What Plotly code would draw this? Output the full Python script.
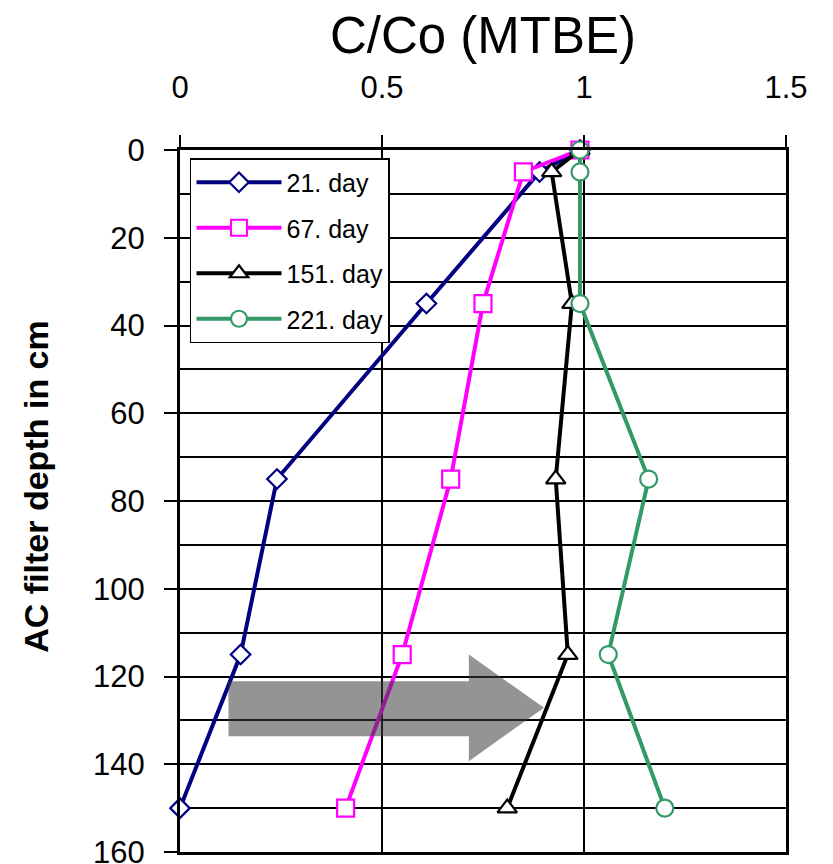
import plotly.graph_objects as go

depth = [0, 5, 35, 75, 115, 150]
day21 = [0.99, 0.89, 0.61, 0.24, 0.15, 0.0]
day67 = [0.99, 0.85, 0.75, 0.67, 0.55, 0.41]
day151 = [0.99, 0.92, 0.97, 0.93, 0.96, 0.81]
day221 = [0.99, 0.99, 0.99, 1.16, 1.06, 1.20]

series_names = ["21. day", "67. day", "151. day", "221. day"]
series_values = [day21, day67, day151, day221]
colors = ["#000080", "#FF00FF", "#000000", "#339966"]
symbols = ["diamond", "square", "triangle-up", "circle"]
sizes = [15, 17, 17, 17]

FONT = "Liberation Sans, Arial, sans-serif"

fig = go.Figure()
for i, (name, vals) in enumerate(zip(series_names, series_values)):
    fig.add_trace(go.Scatter(
        x=vals, y=depth, name=name, mode="lines+markers",
        legendgroup=f"g{i}",
        line=dict(color=colors[i], width=4),
        marker=dict(symbol=symbols[i], size=sizes[i], color="white",
                    line=dict(width=2.2, color=colors[i])),
        cliponaxis=False,
    ))

# gray block arrow (direction of flow), in data coordinates
ax = [0.120, 0.715, 0.715, 0.901, 0.715, 0.715, 0.120]
ay = [121.1, 121.1, 115.0, 127.1, 139.3, 133.6, 133.6]
path = "M " + " L ".join(f"{a},{b}" for a, b in zip(ax, ay)) + " Z"
fig.add_shape(type="path", path=path, xref="x", yref="y",
              fillcolor="rgba(60,60,60,0.55)", line=dict(width=0), layer="above")

# y-axis title as rotated annotation (placed like the reference)
fig.add_annotation(
    text="<b>AC filter depth in cm</b>", textangle=-90,
    xref="paper", yref="paper", x=-0.238, y=0.52,
    xanchor="center", yanchor="middle", showarrow=False,
    font=dict(size=34, family=FONT, color="black"),
)

fig.update_layout(
    width=833, height=864,
    margin=dict(l=180, r=47, t=150, b=12),
    paper_bgcolor="white", plot_bgcolor="white",
    font=dict(family=FONT, color="black"),
    showlegend=True,
    legend=dict(
        x=0.0165, y=0.9886, xanchor="left", yanchor="top",
        bgcolor="white", bordercolor="black", borderwidth=1.5,
        font=dict(size=25, family=FONT, color="black"),
        tracegroupgap=10, itemwidth=85, traceorder="grouped",
    ),
    xaxis=dict(
        side="top", range=[0, 1.5], dtick=0.5, tick0=0,
        showgrid=True, gridcolor="black", gridwidth=2,
        showline=True, linecolor="black", linewidth=3, mirror=True,
        ticks="outside", ticklen=12, tickwidth=2, tickcolor="black",
        tickfont=dict(size=31, family=FONT), ticklabelstandoff=25,
        ticklabeloverflow="allow", automargin=False,
        zeroline=False,
        title=dict(text="C/Co (MTBE)", font=dict(size=51, family=FONT), standoff=0),
    ),
    yaxis=dict(
        range=[160, 0], dtick=20, tick0=0,
        showgrid=True, gridcolor="black", gridwidth=2,
        minor=dict(dtick=10, showgrid=True, gridcolor="black", gridwidth=2, ticks=""),
        showline=True, linecolor="black", linewidth=3, mirror=True,
        ticks="outside", ticklen=13, tickwidth=2, tickcolor="black",
        tickfont=dict(size=31, family=FONT), ticklabelstandoff=13,
        ticklabeloverflow="allow", automargin=False,
        zeroline=False,
    ),
)

fig.write_html("out.html")
